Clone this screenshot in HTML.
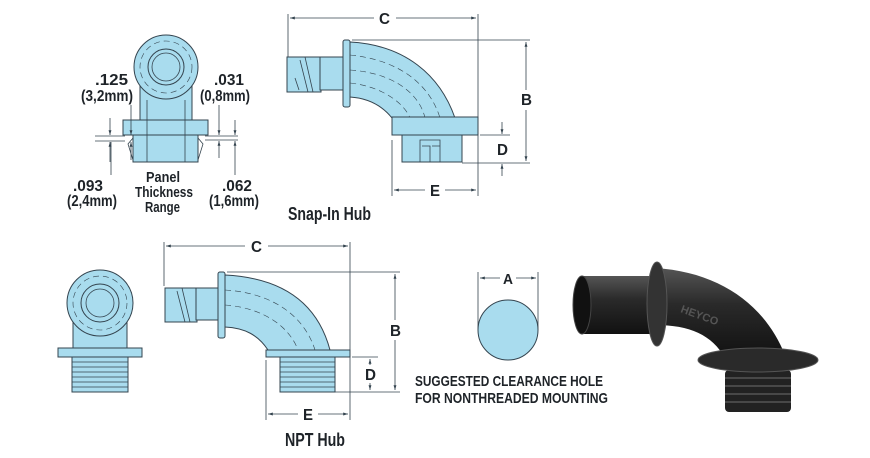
<!DOCTYPE html>
<html><head><meta charset="utf-8"><style>
html,body{margin:0;padding:0;background:#fff;}
svg{display:block;}
text{font-family:"Liberation Sans",sans-serif;font-weight:bold;fill:#1e2328;}
.b{fill:#a9dcee;stroke:#34444f;stroke-width:1;}
.l{stroke:#34444f;stroke-width:0.8;fill:none;}
.d{stroke:#34444f;stroke-width:0.6;fill:none;stroke-dasharray:6 4;}
</style></head><body>
<svg width="870" height="458" viewBox="0 0 870 458" xmlns="http://www.w3.org/2000/svg">
<defs>
<marker id="a" viewBox="0 0 10 10" refX="10" refY="5" markerWidth="7" markerHeight="6" orient="auto-start-reverse"><path d="M0,2 L10,5 L0,8 z" fill="#34444f"/></marker>
<linearGradient id="g" x1="0" y1="0" x2="0" y2="1"><stop offset="0" stop-color="#555"/><stop offset="0.4" stop-color="#2a2a2a"/><stop offset="1" stop-color="#111"/></linearGradient>
</defs>

<!-- Top-left front view -->
<rect class="b" x="140" y="67" width="52" height="55"/>
<circle class="b" cx="166" cy="67" r="32"/>
<circle class="d" cx="166" cy="67" r="26"/>
<circle class="b" cx="166" cy="67" r="18"/>
<circle class="l" cx="166" cy="67" r="14"/>
<rect class="b" x="123" y="120" width="85" height="15"/>
<path class="b" d="M133,135 H198 V162 H133 Z"/>
<path class="l" d="M133,138 l-5,6 l5,16 M198,138 l5,6 l-5,16"/>
<line class="l" x1="147" y1="100" x2="147" y2="162"/><line class="l" x1="185" y1="100" x2="185" y2="162"/>
<line class="l" x1="95" y1="136" x2="125" y2="136"/><line class="l" x1="95" y1="141" x2="125" y2="141"/>
<line class="l" x1="205" y1="136" x2="238" y2="136"/><line class="l" x1="205" y1="140" x2="238" y2="140"/>
<line class="l" x1="110" y1="118" x2="110" y2="135" marker-end="url(#a)"/>
<line class="l" x1="110" y1="162" x2="110" y2="142" marker-end="url(#a)"/>
<line class="l" x1="111" y1="142" x2="111" y2="175"/>
<line class="l" x1="131" y1="105" x2="131" y2="135" marker-end="url(#a)"/>
<line class="l" x1="131" y1="160" x2="131" y2="142" marker-end="url(#a)"/>
<line class="l" x1="219" y1="105" x2="219" y2="135" marker-end="url(#a)"/>
<line class="l" x1="219" y1="158" x2="219" y2="141" marker-end="url(#a)"/>
<line class="l" x1="235" y1="120" x2="235" y2="135" marker-end="url(#a)"/>
<line class="l" x1="235" y1="175" x2="235" y2="141" marker-end="url(#a)"/>
<text x="95" y="85" font-size="16" textLength="33" lengthAdjust="spacingAndGlyphs">.125</text>
<text x="81" y="101" font-size="16" textLength="52" lengthAdjust="spacingAndGlyphs">(3,2mm)</text>
<text x="214" y="85" font-size="16" textLength="30" lengthAdjust="spacingAndGlyphs">.031</text>
<text x="200" y="101" font-size="16" textLength="50" lengthAdjust="spacingAndGlyphs">(0,8mm)</text>
<text x="73" y="191" font-size="16" textLength="30" lengthAdjust="spacingAndGlyphs">.093</text>
<text x="67" y="206" font-size="16" textLength="50" lengthAdjust="spacingAndGlyphs">(2,4mm)</text>
<text x="222" y="191" font-size="16" textLength="30" lengthAdjust="spacingAndGlyphs">.062</text>
<text x="209" y="206" font-size="16" textLength="50" lengthAdjust="spacingAndGlyphs">(1,6mm)</text>
<text x="146" y="182" font-size="15" textLength="34" lengthAdjust="spacingAndGlyphs">Panel</text>
<text x="135" y="197" font-size="15" textLength="58" lengthAdjust="spacingAndGlyphs">Thickness</text>
<text x="145" y="212" font-size="15" textLength="35" lengthAdjust="spacingAndGlyphs">Range</text>

<!-- Snap-in hub side -->
<line class="l" x1="288" y1="14" x2="288" y2="58"/><line class="l" x1="478" y1="14" x2="478" y2="196"/>
<line class="l" x1="374" y1="18" x2="290" y2="18" marker-end="url(#a)"/>
<line class="l" x1="396" y1="18" x2="476" y2="18" marker-end="url(#a)"/>
<text x="379" y="24" font-size="16" textLength="11" lengthAdjust="spacingAndGlyphs">C</text>
<path class="b" d="M350,42 C405,45 440,75 455,118 L392,118 C380,103 365,98 350,97 Z"/>
<path class="d" d="M350,55 C400,60 430,85 440,118 M350,70 C395,73 420,95 425,118 M350,83 C385,87 405,105 410,118"/>
<rect class="b" x="287" y="57" width="34" height="35"/>
<rect class="b" x="320" y="57" width="24" height="33"/>
<path class="l" d="M305,57 l8,35 M300,60 l8,32 M295,78 l4,12"/>
<rect class="b" x="343" y="40" width="7" height="67" rx="2"/>
<rect class="b" x="392" y="117" width="86" height="18"/>
<rect class="b" x="402" y="135" width="60" height="27"/>
<path class="l" d="M420,140 h20 v22 h-20 z M422,146 h8 v16 M432,146 h8"/>
<line class="l" x1="352" y1="40" x2="530" y2="40"/><line class="l" x1="462" y1="163" x2="530" y2="163"/>
<line class="l" x1="526" y1="90" x2="526" y2="42" marker-end="url(#a)"/>
<line class="l" x1="526" y1="110" x2="526" y2="161" marker-end="url(#a)"/>
<text x="521" y="105" font-size="16" textLength="11" lengthAdjust="spacingAndGlyphs">B</text>
<line class="l" x1="480" y1="135" x2="510" y2="135"/>
<line class="l" x1="502" y1="122" x2="502" y2="134" marker-end="url(#a)"/>
<line class="l" x1="502" y1="176" x2="502" y2="164" marker-end="url(#a)"/>
<text x="497" y="155" font-size="16" textLength="11" lengthAdjust="spacingAndGlyphs">D</text>
<line class="l" x1="392" y1="140" x2="392" y2="196"/>
<line class="l" x1="425" y1="190" x2="394" y2="190" marker-end="url(#a)"/>
<line class="l" x1="445" y1="190" x2="476" y2="190" marker-end="url(#a)"/>
<text x="430" y="196" font-size="16" textLength="10" lengthAdjust="spacingAndGlyphs">E</text>
<text x="288" y="220" font-size="18" textLength="83" lengthAdjust="spacingAndGlyphs">Snap-In Hub</text>

<!-- NPT front view -->
<rect class="b" x="73" y="300" width="54" height="50"/>
<circle class="b" cx="100" cy="303" r="33"/>
<circle class="d" cx="100" cy="303" r="27"/>
<circle class="b" cx="100" cy="303" r="19"/>
<circle class="l" cx="100" cy="303" r="14"/>
<rect class="b" x="58" y="348" width="84" height="9"/>
<rect class="b" x="72" y="357" width="56" height="35"/>
<path class="l" d="M72,362h56M72,367h56M72,372h56M72,377h56M72,382h56M72,387h56"/>

<!-- NPT side -->
<line class="l" x1="164" y1="242" x2="164" y2="286"/><line class="l" x1="350" y1="242" x2="350" y2="420"/>
<line class="l" x1="245" y1="246" x2="166" y2="246" marker-end="url(#a)"/>
<line class="l" x1="268" y1="246" x2="348" y2="246" marker-end="url(#a)"/>
<text x="251" y="252" font-size="16" textLength="11" lengthAdjust="spacingAndGlyphs">C</text>
<path class="b" d="M225,275 C285,278 318,305 330,350 L268,350 C258,335 245,328 225,327 Z"/>
<path class="d" d="M225,290 C275,293 305,318 315,350 M225,305 C265,308 290,328 298,350"/>
<rect class="b" x="165" y="288" width="32" height="34"/>
<rect class="b" x="196" y="288" width="23" height="32"/>
<path class="l" d="M182,288 l8,34 M177,291 l8,31"/>
<rect class="b" x="218" y="272" width="7" height="66" rx="2"/>
<rect class="b" x="266" y="350" width="84" height="7"/>
<rect class="b" x="280" y="357" width="55" height="35"/>
<path class="l" d="M280,362h55M280,367h55M280,372h55M280,377h55M280,382h55M280,387h55"/>
<line class="l" x1="227" y1="272" x2="400" y2="272"/><line class="l" x1="335" y1="392" x2="400" y2="392"/>
<line class="l" x1="395" y1="320" x2="395" y2="274" marker-end="url(#a)"/>
<line class="l" x1="395" y1="340" x2="395" y2="390" marker-end="url(#a)"/>
<text x="390" y="336" font-size="16" textLength="11" lengthAdjust="spacingAndGlyphs">B</text>
<line class="l" x1="352" y1="357" x2="378" y2="357"/>
<line class="l" x1="370" y1="365" x2="370" y2="359" marker-end="url(#a)"/>
<line class="l" x1="370" y1="383" x2="370" y2="390" marker-end="url(#a)"/>
<text x="365" y="380" font-size="16" textLength="11" lengthAdjust="spacingAndGlyphs">D</text>
<line class="l" x1="266" y1="360" x2="266" y2="420"/>
<line class="l" x1="298" y1="414" x2="268" y2="414" marker-end="url(#a)"/>
<line class="l" x1="318" y1="414" x2="348" y2="414" marker-end="url(#a)"/>
<text x="303" y="420" font-size="16" textLength="10" lengthAdjust="spacingAndGlyphs">E</text>
<text x="285" y="446" font-size="18" textLength="60" lengthAdjust="spacingAndGlyphs">NPT Hub</text>

<!-- Clearance hole -->
<line class="l" x1="478" y1="272" x2="478" y2="330"/><line class="l" x1="538" y1="272" x2="538" y2="330"/>
<line class="l" x1="500" y1="278" x2="480" y2="278" marker-end="url(#a)"/>
<line class="l" x1="516" y1="278" x2="536" y2="278" marker-end="url(#a)"/>
<text x="503" y="284" font-size="15" textLength="10" lengthAdjust="spacingAndGlyphs">A</text>
<circle class="b" cx="508" cy="330" r="30"/>
<text x="415" y="386" font-size="15" textLength="188" lengthAdjust="spacingAndGlyphs">SUGGESTED CLEARANCE HOLE</text>
<text x="415" y="403" font-size="15" textLength="193" lengthAdjust="spacingAndGlyphs">FOR NONTHREADED MOUNTING</text>

<!-- Photo -->
<rect x="725" y="370" width="66" height="42" rx="4" fill="#222"/>
<path d="M725,378h66M725,386h66M725,394h66M725,402h66" stroke="#555" stroke-width="1.5"/>
<path d="M655,268 C720,272 765,305 785,355 L725,358 C712,335 690,325 655,325 Z" fill="url(#g)"/>
<ellipse cx="758" cy="360" rx="60" ry="12" fill="#2a2a2a" stroke="#555"/>
<rect x="580" y="276" width="78" height="58" fill="url(#g)"/>
<ellipse cx="657" cy="304" rx="10" ry="42" fill="#333" stroke="#555"/>
<ellipse cx="582" cy="305" rx="9" ry="29" fill="#111" stroke="#444"/>
<text x="680" y="312" font-size="11" style="fill:#555" transform="rotate(20 680 312)">HEYCO</text>
</svg>
</body></html>
